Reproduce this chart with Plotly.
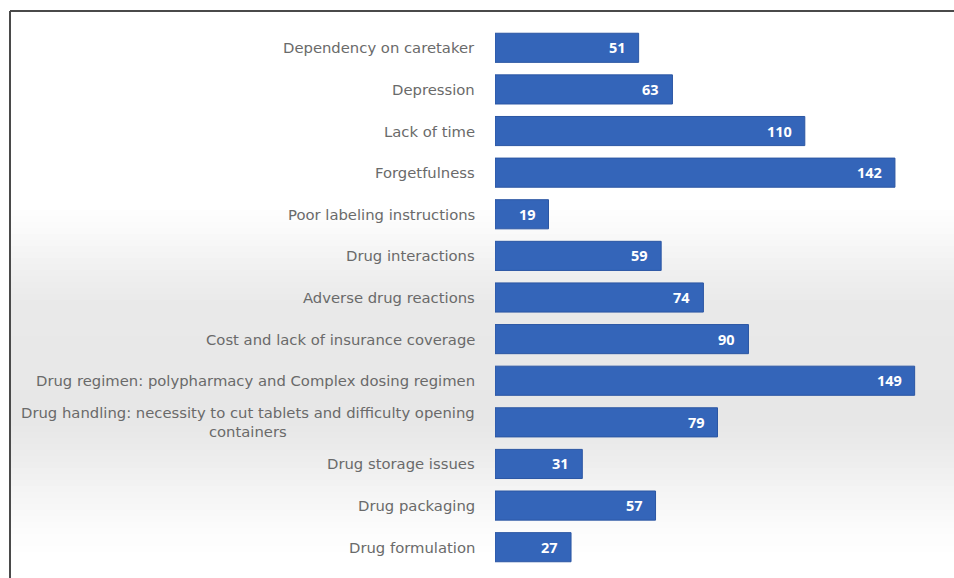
import plotly.graph_objects as go

# Reasons for medication non-adherence, listed top to bottom
categories = [
    "Dependency on caretaker",
    "Depression",
    "Lack of time",
    "Forgetfulness",
    "Poor labeling instructions",
    "Drug interactions",
    "Adverse drug reactions",
    "Cost and lack of insurance coverage",
    "Drug regimen: polypharmacy and Complex dosing regimen",
    "Drug handling: necessity to cut tablets and difficulty opening<br>containers",
    "Drug storage issues",
    "Drug packaging",
    "Drug formulation",
]
counts = [51, 63, 110, 142, 19, 59, 74, 90, 149, 79, 31, 57, 27]

W, H = 954, 578
ML, MR, MT, MB = 495, 14, 27, 10
PW, PH = W - ML - MR, H - MT - MB


def px_x(px):
    return (px - ML) / PW


def px_y(py):
    return (H - MB - py) / PH


fig = go.Figure(
    go.Bar(
        x=counts,
        y=categories,
        orientation="h",
        marker=dict(color="#3465b9", line=dict(color="#2b56a3", width=1)),
        hoverinfo="x+y",
    )
)

# soft vertical grey band behind the chart
grey_stops = [(0, 255), (205, 255), (235, 249), (270, 240), (305, 233),
              (420, 231), (460, 237), (495, 245), (525, 251), (555, 255), (578, 255)]
shapes = []
step = 6
for y0 in range(12, H, step):
    y1 = min(y0 + step, H)
    ym = (y0 + y1) / 2
    for (a, va), (b, vb) in zip(grey_stops, grey_stops[1:]):
        if a <= ym <= b:
            v = round(va + (vb - va) * (ym - a) / (b - a))
            break
    if v >= 255:
        continue
    shapes.append(dict(
        type="rect", xref="paper", yref="paper", layer="below",
        x0=px_x(11), x1=px_x(W), y0=px_y(y1), y1=px_y(y0),
        fillcolor=f"rgb({v},{v},{v})", line=dict(width=0),
    ))

# frame lines along the top and left edge
shapes.append(dict(type="line", xref="paper", yref="paper",
                   x0=px_x(10), x1=px_x(W), y0=px_y(11), y1=px_y(11),
                   line=dict(color="#4a4a4a", width=2)))
shapes.append(dict(type="line", xref="paper", yref="paper",
                   x0=px_x(10), x1=px_x(10), y0=px_y(11), y1=px_y(H),
                   line=dict(color="#4a4a4a", width=2)))

annotations = []
for cat, val in zip(categories, counts):
    # category label to the left of the bar
    annotations.append(dict(
        x=0, y=cat, xref="x", yref="y", text=cat, showarrow=False,
        xanchor="right", yanchor="middle", xshift=-18, align="center",
        font=dict(family="DejaVu Sans", size=14.8, color="#6a6a6a"),
    ))
    # value label inside the end of the bar
    annotations.append(dict(
        x=val, y=cat, xref="x", yref="y", text=f"<b>{val}</b>", showarrow=False,
        xanchor="right", yanchor="middle", xshift=-11,
        font=dict(family="Open Sans", size=14.5, color="white"),
    ))

fig.update_layout(
    width=W, height=H,
    margin=dict(l=ML, r=MR, t=MT, b=MB),
    paper_bgcolor="white",
    plot_bgcolor="rgba(0,0,0,0)",
    bargap=0.3,
    showlegend=False,
    shapes=shapes,
    annotations=annotations,
    xaxis=dict(range=[0, 158], visible=False),
    yaxis=dict(autorange="reversed", showticklabels=False, showgrid=False,
               zeroline=False, ticks=""),
)

fig.write_html("out.html")
